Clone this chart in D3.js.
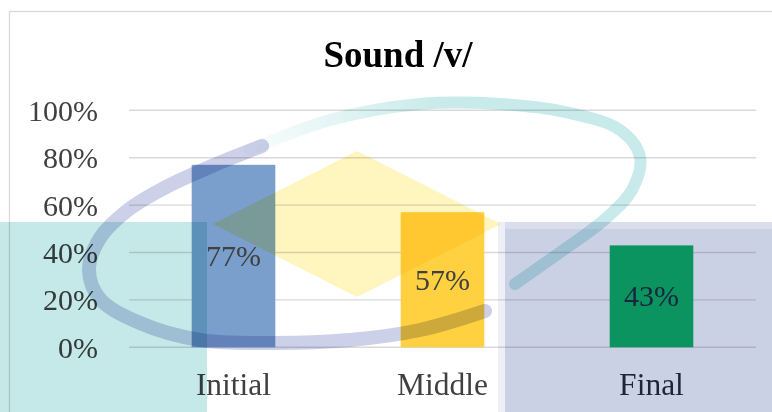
<!DOCTYPE html>
<html>
<head>
<meta charset="utf-8">
<script src="https://cdn.jsdelivr.net/npm/d3@7"></script>
<style>
  html, body { margin: 0; padding: 0; background: #fff; }
  svg { display: block; }
  text { font-family: "Liberation Serif", "Times New Roman", serif; }
  .mul { mix-blend-mode: multiply; }
</style>
</head>
<body>
<svg id="chart" width="772" height="412"></svg>
<script>
// ---- data ----
const title = "Sound /v/";
const categories = ["Initial", "Middle", "Final"];
const values = [0.77, 0.57, 0.43];
const valueLabels = ["77%", "57%", "43%"];
const tickValues = [0, 0.2, 0.4, 0.6, 0.8, 1.0];
const tickLabels = ["0%", "20%", "40%", "60%", "80%", "100%"];

// ---- layout / style ----
const W = 772, H = 412;
const plot = { left: 129, right: 756, top: 110.3, bottom: 347.3 };
const barColor = d3.scaleOrdinal().domain(categories).range(["#7A9FCC", "#FFD040", "#0B9360"]);
const lavenderLeft = 505;

const svg = d3.select("#chart");

const x = d3.scaleBand().domain(categories).range([plot.left, plot.right])
  .paddingInner(0.6).paddingOuter(0.3);
const y = d3.scaleLinear().domain([0, 1]).range([plot.bottom, plot.top]);

const defs = svg.append("defs");
const g1 = defs.append("linearGradient").attr("id", "tealFade")
  .attr("gradientUnits", "userSpaceOnUse").attr("x1", 250).attr("y1", 0).attr("x2", 440).attr("y2", 0);
g1.append("stop").attr("offset", 0).attr("stop-color", "#C8EAEA").attr("stop-opacity", 0.1);
g1.append("stop").attr("offset", 1).attr("stop-color", "#C8EAEA").attr("stop-opacity", 1);

// background
svg.append("rect").attr("width", W).attr("height", H).attr("fill", "#fff");

// watermark: lavender block (behind the chart marks)
svg.append("rect").attr("x", lavenderLeft - 7).attr("y", 222).attr("width", 7).attr("height", H - 222).attr("fill", "#EEF0F6");
svg.append("rect").attr("x", lavenderLeft).attr("y", 222).attr("width", W - lavenderLeft).attr("height", H - 222).attr("fill", "#DADEEC");
svg.append("rect").attr("x", lavenderLeft).attr("y", 229).attr("width", W - lavenderLeft).attr("height", H - 229).attr("fill", "#CBD1E5");

// chart border
svg.append("rect").attr("x", 9.5).attr("y", 11.5).attr("width", 900).attr("height", 600)
  .attr("fill", "none").attr("stroke", "#D9D9D9").attr("stroke-width", 1.3);

// gridlines
svg.append("g").selectAll("line").data(tickValues).join("line")
  .attr("class", "mul")
  .attr("x1", plot.left).attr("x2", plot.right)
  .attr("y1", d => y(d)).attr("y2", d => y(d))
  .attr("stroke", "#D9D9D9").attr("stroke-width", 1.4);

// title
svg.append("text").attr("x", 398).attr("y", 67).attr("text-anchor", "middle")
  .attr("font-size", 37).attr("font-weight", "bold").attr("fill", "#000").text(title);

// y tick labels
svg.append("g").selectAll("text").data(tickValues).join("text")
  .attr("x", 98).attr("y", d => y(d) + 10.5).attr("text-anchor", "end")
  .attr("font-size", 30).attr("fill", "#404040")
  .text((d, i) => tickLabels[i]);

// category labels
svg.append("g").selectAll("text").data(categories).join("text")
  .attr("x", d => x(d) + x.bandwidth() / 2).attr("y", 395).attr("text-anchor", "middle")
  .attr("font-size", 31.5)
  .attr("fill", d => (x(d) > lavenderLeft ? "#1E2536" : "#404040"))
  .text(d => d);

// bars
svg.append("g").selectAll("rect").data(categories).join("rect")
  .attr("x", d => x(d)).attr("width", x.bandwidth())
  .attr("y", (d, i) => y(values[i])).attr("height", (d, i) => y(0) - y(values[i]))
  .attr("fill", d => barColor(d));

// data labels (centered in bar)
svg.append("g").selectAll("text").data(categories).join("text")
  .attr("x", d => x(d) + x.bandwidth() / 2)
  .attr("y", (d, i) => (y(values[i]) + y(0)) / 2 + 10)
  .attr("text-anchor", "middle").attr("font-size", 30)
  .attr("fill", d => (x(d) > lavenderLeft ? "#1A2540" : "#404040"))
  .text((d, i) => valueLabels[i]);

// ---- watermark overlay (multiplied on top) ----
svg.append("rect").attr("class", "mul").attr("x", 0).attr("y", 222).attr("width", 207).attr("height", H - 222)
  .attr("fill", "#C5E9E8");
svg.append("path").attr("class", "mul").attr("d", "M213,224 L357,151 L501,224 L357,297 Z")
  .attr("fill", "#FFF5BF");

const ringLine = d3.line().curve(d3.curveCatmullRom.alpha(0.5));
const tealArc = [[250,150],[330,120],[420,104],[500,104],[565,112],[620,130],[640,157],[632,190],[604,220],[562,251],[515,284]];
const lavArc = [[485,311],[420,330],[350,340],[270,343],[200,340],[140,323],[100,299],[89,270],[100,238],[128,210],[168,186],[212,166],[262,146]];
svg.append("path").attr("class", "mul").attr("d", ringLine(tealArc)).attr("fill", "none")
  .attr("stroke", "url(#tealFade)").attr("stroke-width", 12).attr("stroke-linecap", "round");
svg.append("path").attr("class", "mul").attr("d", ringLine(lavArc)).attr("fill", "none")
  .attr("stroke", "#CCD0E8").attr("stroke-width", 14).attr("stroke-linecap", "round");
</script>
</body>
</html>
